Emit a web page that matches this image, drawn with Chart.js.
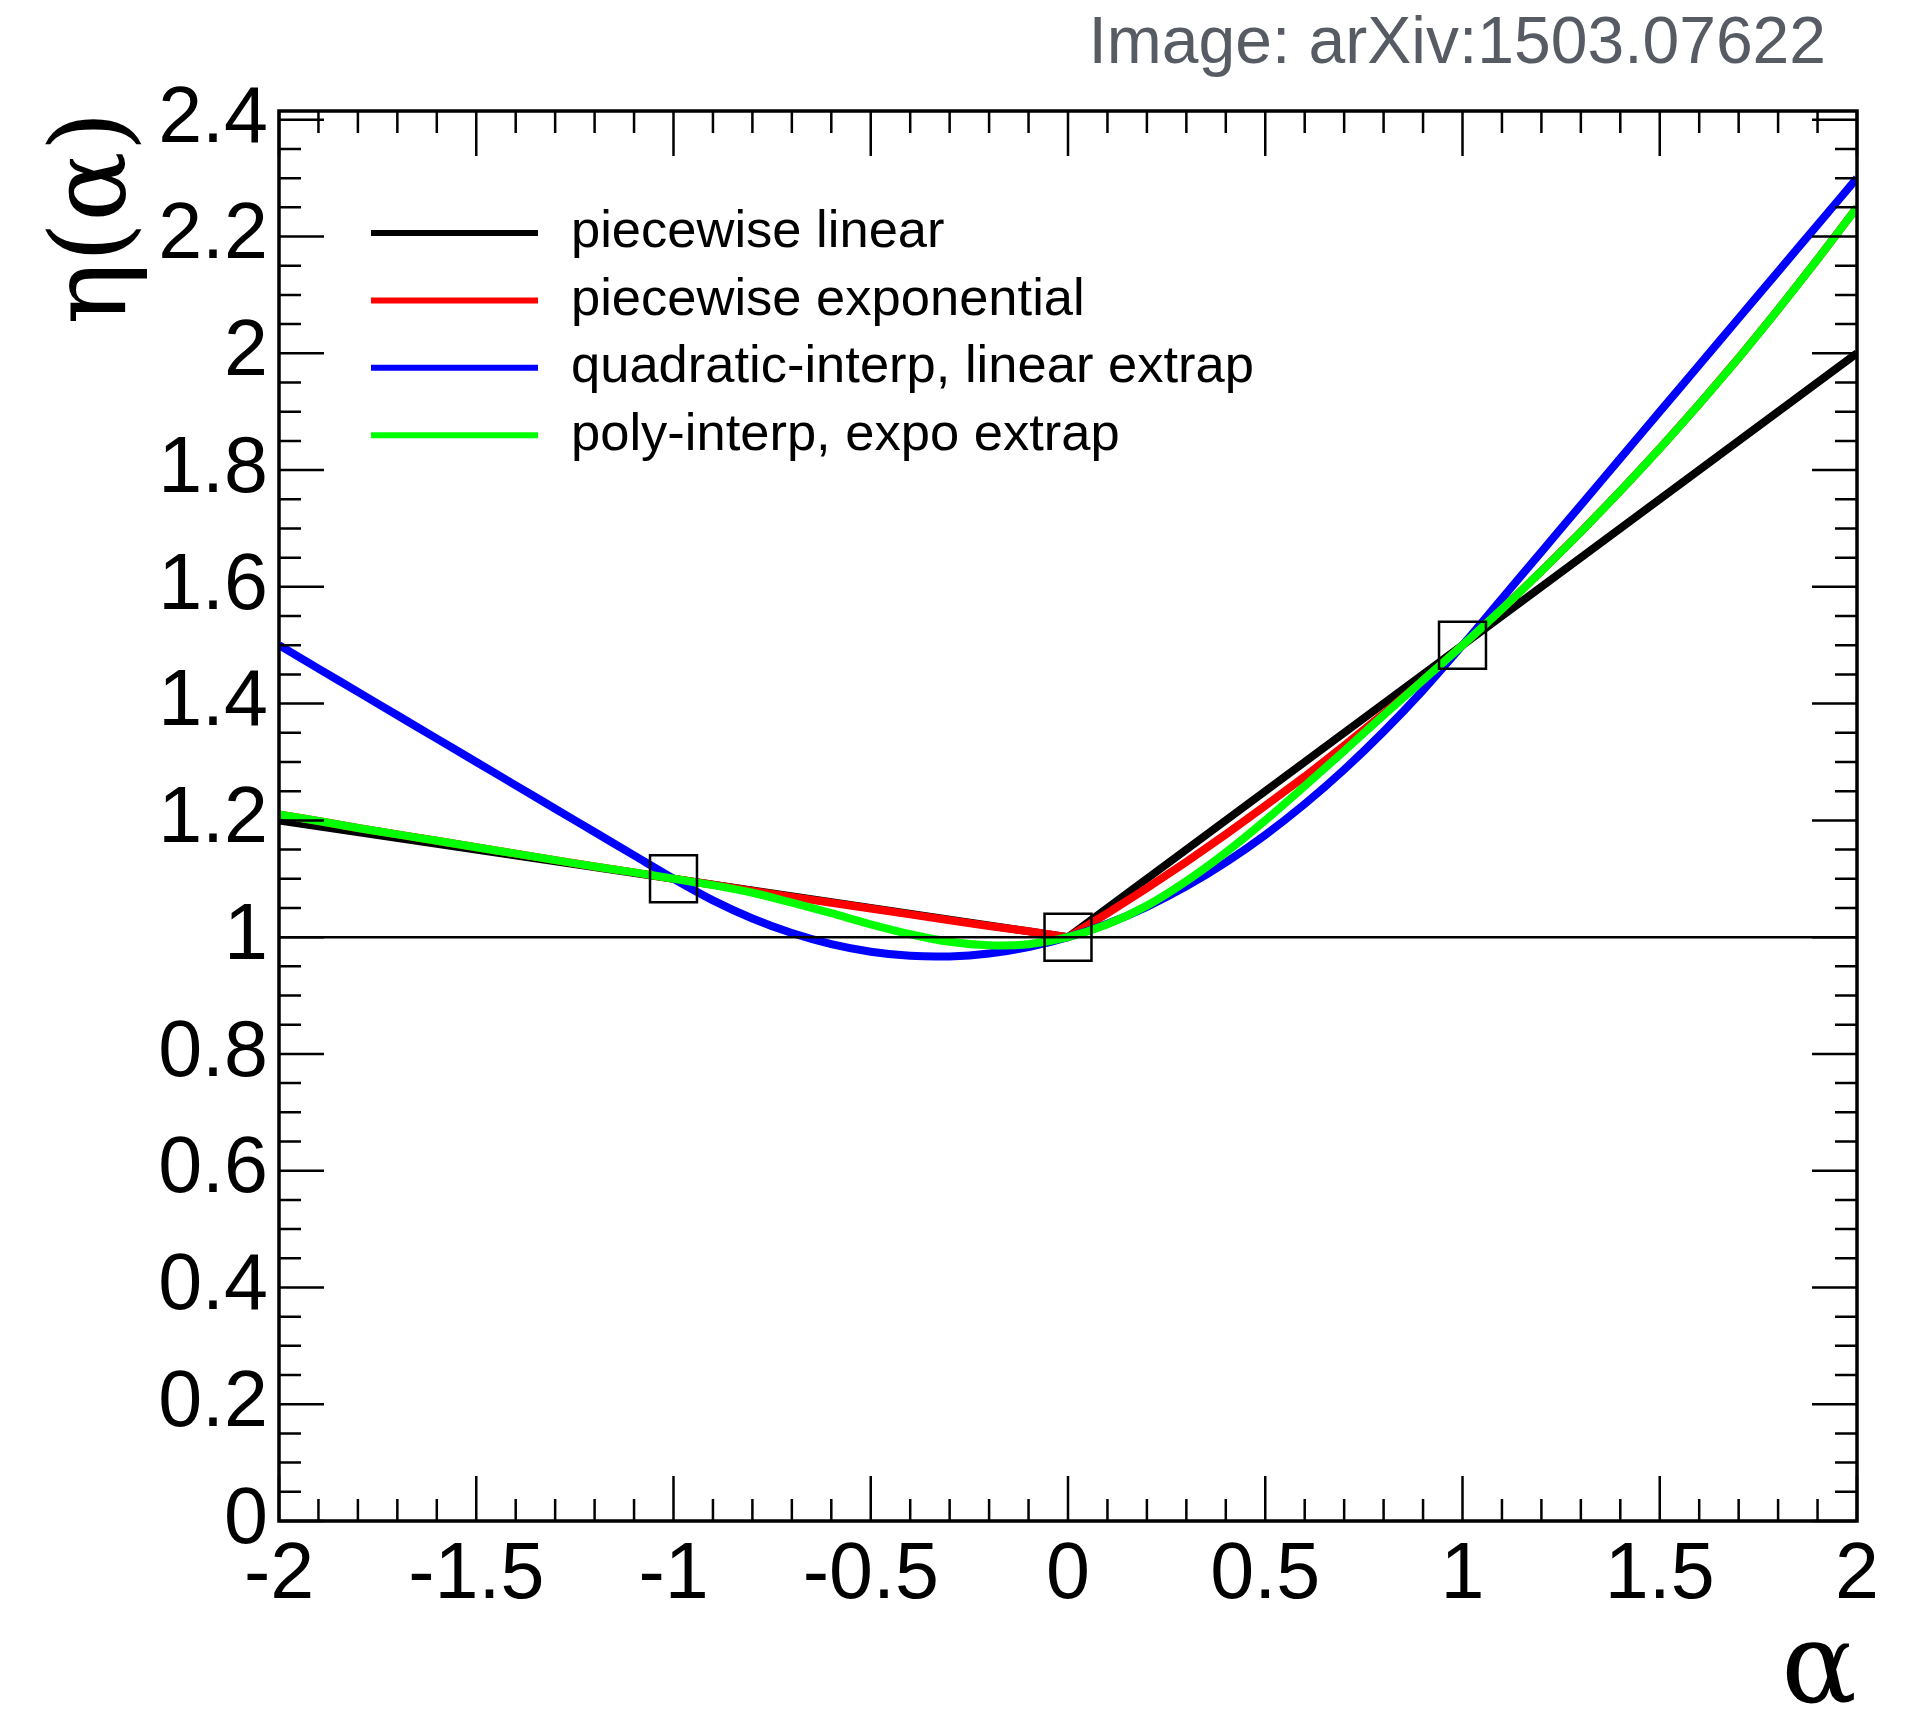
<!DOCTYPE html>
<html>
<head>
<meta charset="utf-8">
<script src="https://cdn.jsdelivr.net/npm/chart.js@4.4.1/dist/chart.umd.min.js"></script>
<style>
  html, body { margin: 0; padding: 0; background: #fff; }
  #wrap { width: 1927px; height: 1716px; position: relative; }
</style>
</head>
<body>
<div id="wrap"><canvas id="cnvEta"></canvas></div>
<script>
const seriesNames = ['piecewise linear', 'piecewise exponential', 'quadratic-interp, linear extrap', 'poly-interp, expo extrap']
const seriesColors = ['#000000', '#ff0000', '#0000ff', '#00ff00']

// values
const alphaGrid = [-2, -1.9, -1.8, -1.7, -1.6, -1.5, -1.4, -1.3, -1.2, -1.1, -1, -0.9, -0.8, -0.7, -0.6, -0.5, -0.4, -0.3, -0.2, -0.1,
  0, 0.1, 0.2, 0.3, 0.4, 0.5, 0.6, 0.7, 0.8, 0.9, 1, 1.1, 1.2, 1.3, 1.4, 1.5, 1.6, 1.7, 1.8, 1.9, 2]
const etaExpo = [1.21, 1.199, 1.187, 1.176, 1.165, 1.154, 1.143, 1.132, 1.121, 1.111, 1.1, 1.090, 1.079, 1.069, 1.059, 1.049, 1.039, 1.029, 1.019, 1.010,
  1.0, 1.041, 1.084, 1.129, 1.176, 1.225, 1.275, 1.328, 1.383, 1.440, 1.5, 1.562, 1.627, 1.694, 1.764, 1.837, 1.913, 1.992, 2.075, 2.161, 2.25]
const etaQuad = [1.5, 1.46, 1.42, 1.38, 1.34, 1.30, 1.26, 1.22, 1.18, 1.14, 1.1, 1.063, 1.032, 1.007, 0.988, 0.975, 0.968, 0.967, 0.972, 0.983,
  1.0, 1.023, 1.052, 1.087, 1.128, 1.175, 1.228, 1.287, 1.352, 1.423, 1.5, 1.58, 1.66, 1.74, 1.82, 1.90, 1.98, 2.06, 2.14, 2.22, 2.30]
const etaPoly = [1.21, 1.199, 1.187, 1.176, 1.165, 1.154, 1.143, 1.132, 1.121, 1.111, 1.1, 1.089, 1.076, 1.059, 1.041, 1.022, 1.005, 0.992, 0.986, 0.988,
  1.0, 1.022, 1.054, 1.096, 1.145, 1.200, 1.259, 1.319, 1.380, 1.440, 1.5, 1.562, 1.627, 1.694, 1.764, 1.837, 1.913, 1.992, 2.075, 2.161, 2.25]
const alphaLin = [-2, 0, 2]
const etaLin = [1.2, 1.0, 2.0]
const refAlpha = [-2, 2]
const refEta = [1, 1]
const knotAlpha = [-1, 0, 1]
const knotEta = [1.1, 1.0, 1.5]

const xTickLabels = ['-2', '-1.5', '-1', '-0.5', '0', '0.5', '1', '1.5', '2']
const yTickLabels = ['0', '0.2', '0.4', '0.6', '0.8', '1', '1.2', '1.4', '1.6', '1.8', '2', '2.2', '2.4']

const sansFont = "'Liberation Sans', Arial, Helvetica, sans-serif"
const serifFont = "'DejaVu Serif', 'Liberation Serif', serif"

function toPoints(xs, ys) {
  return xs.map((x, i) => ({x: x, y: ys[i]}))
}

// frame box with inward ticks on all four sides
const frameTicks = {
  id: 'frameTicks',
  afterDatasetsDraw(chart) {
    const {ctx, chartArea: a, scales: {x, y}} = chart
    ctx.save()
    ctx.strokeStyle = '#000'
    ctx.lineWidth = 2.5
    ctx.beginPath()
    for (let i = 0; i <= 40; i++) {
      let px = x.getPixelForValue(-2 + i * 0.1)
      let len = i % 5 == 0 ? 45 : 22
      ctx.moveTo(px, a.bottom); ctx.lineTo(px, a.bottom - len)
      ctx.moveTo(px, a.top); ctx.lineTo(px, a.top + len)
    }
    for (let i = 0; i * 0.05 <= y.max; i++) {
      let py = y.getPixelForValue(i * 0.05)
      let len = i % 4 == 0 ? 45 : 22
      ctx.moveTo(a.left, py); ctx.lineTo(a.left + len, py)
      ctx.moveTo(a.right, py); ctx.lineTo(a.right - len, py)
    }
    ctx.stroke()
    ctx.lineWidth = 3.5
    ctx.strokeRect(a.left, a.top, a.right - a.left, a.bottom - a.top)
    ctx.restore()
  }
}

const boxLegend = {
  id: 'boxLegend',
  afterDraw(chart) {
    const ctx = chart.ctx
    ctx.save()
    ctx.font = '52.5px ' + sansFont
    ctx.textBaseline = 'middle'
    ctx.fillStyle = '#000'
    chart.data.datasets.slice(0, 4).forEach((ds, i) => {
      let yy = 233 + i * 67.4
      ctx.strokeStyle = ds.borderColor
      ctx.lineWidth = 6
      ctx.beginPath()
      ctx.moveTo(371, yy)
      ctx.lineTo(538, yy)
      ctx.stroke()
      ctx.fillText(ds.label, 571, yy)
    })
    ctx.font = '66px ' + sansFont
    ctx.fillStyle = '#575b63'
    ctx.textAlign = 'right'
    ctx.textBaseline = 'alphabetic'
    ctx.fillText('Image: arXiv:1503.07622', 1826, 63)
    ctx.restore()
  }
}

let chart = new Chart(document.getElementById('cnvEta'), {
  type: 'line',
  data: {
    datasets: [
      { label: seriesNames[0], data: toPoints(alphaLin, etaLin), borderColor: seriesColors[0], order: 6 },
      { label: seriesNames[1], data: toPoints(alphaGrid, etaExpo), borderColor: seriesColors[1], order: 5 },
      { label: seriesNames[2], data: toPoints(alphaGrid, etaQuad), borderColor: seriesColors[2], order: 4, tension: 0.3 },
      { label: seriesNames[3], data: toPoints(alphaGrid, etaPoly), borderColor: seriesColors[3], order: 3, tension: 0.3 },
      { label: 'nominal', data: toPoints(refAlpha, refEta), borderColor: '#000', borderWidth: 2.5, order: 2 },
      {
        label: 'knots', data: toPoints(knotAlpha, knotEta), showLine: false, order: 1,
        pointStyle: 'rect', pointRadius: 33.2, pointBorderWidth: 2.5,
        pointBorderColor: '#000', pointBackgroundColor: 'rgba(0,0,0,0)'
      }
    ]
  },
  options: {
    responsive: true,
    maintainAspectRatio: false,
    animation: false,
    devicePixelRatio: 1,
    events: [],
    layout: { padding: { left: 0, top: 111, right: 70, bottom: 0 } },
    elements: {
      line: { borderWidth: 8, tension: 0, fill: false, borderJoinStyle: 'round' },
      point: { radius: 0, hoverRadius: 0 }
    },
    plugins: { legend: { display: false }, tooltip: { enabled: false } },
    scales: {
      x: {
        type: 'linear', min: -2, max: 2,
        grid: { display: false, drawTicks: false },
        border: { display: false },
        ticks: {
          stepSize: 0.5, autoSkip: false, maxRotation: 0, padding: 8, color: '#000',
          font: { family: sansFont, size: 79 },
          callback: (v, i) => xTickLabels[i]
        },
        title: {
          display: true, text: 'α', align: 'end', color: '#000',
          font: { family: serifFont, size: 112, lineHeight: 0.7 },
          padding: { top: 0, bottom: 4 }
        },
        afterFit: s => { s.height = 195 }
      },
      y: {
        type: 'linear', min: 0, max: 2.415,
        grid: { display: false, drawTicks: false },
        border: { display: false },
        ticks: {
          stepSize: 0.2, includeBounds: false, autoSkip: false, padding: 11, color: '#000',
          font: { family: sansFont, size: 79 },
          callback: (v, i) => yTickLabels[i]
        },
        title: {
          display: true, text: 'η(α)', align: 'end', color: '#000',
          font: { family: serifFont, size: 104, lineHeight: 1 },
          padding: { top: 46, bottom: 0 }
        },
        afterFit: s => { s.width = 279 }
      }
    }
  },
  plugins: [frameTicks, boxLegend]
})
</script>
</body>
</html>
